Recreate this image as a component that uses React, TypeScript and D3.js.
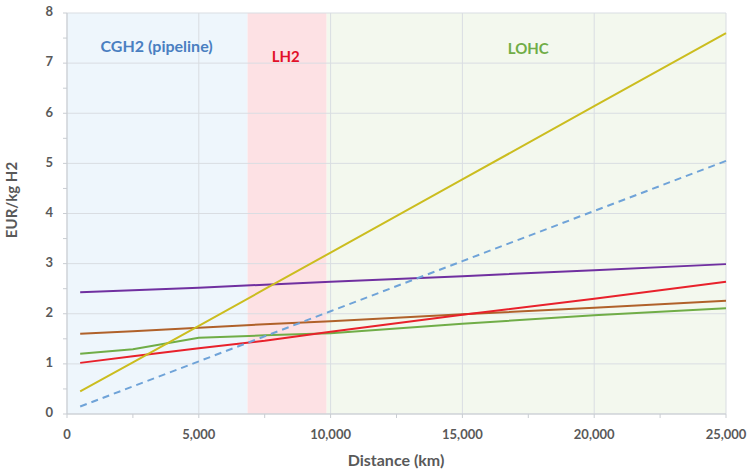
import React from "react";
import * as d3 from "d3";

const xTicks = [0, 5000, 10000, 15000, 20000, 25000];
const yTicks = [0, 1, 2, 3, 4, 5, 6, 7, 8];

const regions = [
  { name: "CGH2 (pipeline)", from: 0, to: 6850, fill: "#eef6fc", color: "#4a7fc1", labelX: 3400, labelY: 7.3, size: 16 },
  { name: "LH2", from: 6850, to: 9850, fill: "#fde1e4", color: "#e2102a", labelX: 8300, labelY: 7.1, size: 15 },
  { name: "LOHC", from: 9850, to: 25000, fill: "#f3f8ee", color: "#70ad47", labelX: 17500, labelY: 7.25, size: 15 },
];

const distances = [500, 2500, 5000, 7500, 10000, 15000, 20000, 25000];
const yellowSeries = [0.45, 1.03, 1.76, 2.49, 3.22, 4.68, 6.14, 7.6];
const dashedSeries = [0.15, 0.55, 1.05, 1.55, 2.05, 3.05, 4.05, 5.05];
const purpleSeries = [2.43, 2.47, 2.52, 2.58, 2.64, 2.75, 2.87, 2.99];
const brownSeries = [1.6, 1.65, 1.72, 1.79, 1.85, 1.99, 2.12, 2.26];
const redSeries = [1.02, 1.15, 1.31, 1.46, 1.64, 1.98, 2.3, 2.64];
const greenSeries = [1.2, 1.29, 1.52, 1.57, 1.61, 1.8, 1.97, 2.11];

const series = [
  { values: greenSeries, color: "#70ad47", dash: "" },
  { values: brownSeries, color: "#b0612a", dash: "" },
  { values: redSeries, color: "#e8212b", dash: "" },
  { values: purpleSeries, color: "#7030a0", dash: "" },
  { values: dashedSeries, color: "#6fa3d8", dash: "7,5" },
  { values: yellowSeries, color: "#cbbd1f", dash: "" },
];

const W = 751;
const H = 472;
const left = 67;
const right = 726;
const top = 13;
const bottom = 414;
const font = "Lato, 'Open Sans', sans-serif";

export default function App() {
  const x = d3.scaleLinear().domain([0, 25000]).range([left, right]);
  const y = d3.scaleLinear().domain([0, 8]).range([bottom, top]);
  const line = d3
    .line<number>()
    .x((_, i) => x(distances[i]))
    .y((v) => y(v));
  const fmt = d3.format(",");
  const minorX = d3.range(2500, 25001, 5000);
  const minorY = d3.range(0.5, 8, 1);

  return (
    <svg width={W} height={H} style={{ position: "absolute", left: 0, top: 0, background: "#fff" }}>
      {regions.map((r) => (
        <rect key={r.name} x={x(r.from)} y={y(8)} width={x(r.to) - x(r.from)} height={y(0) - y(8)} fill={r.fill} />
      ))}
      {yTicks.map((t) => (
        <line key={"gy" + t} x1={left} x2={right} y1={y(t)} y2={y(t)} stroke="#d9dde2" strokeWidth={1} />
      ))}
      {xTicks.map((t) => (
        <line key={"gx" + t} x1={x(t)} x2={x(t)} y1={top} y2={bottom} stroke="#d9dde2" strokeWidth={1} />
      ))}
      {regions.map((r) => (
        <text
          key={"l" + r.name}
          x={x(r.labelX)}
          y={y(r.labelY)}
          textAnchor="middle"
          dominantBaseline="middle"
          fill={r.color}
          fontFamily={font}
          fontWeight="bold"
          fontSize={r.size}
        >
          {r.name}
        </text>
      ))}
      {series.map((s, i) => (
        <path key={i} d={line(s.values) || ""} fill="none" stroke={s.color} strokeWidth={2} strokeDasharray={s.dash} />
      ))}
      <line x1={left} x2={left} y1={top} y2={bottom} stroke="#c9cdd2" />
      <line x1={left} x2={right} y1={bottom} y2={bottom} stroke="#c9cdd2" />
      {minorY.map((t) => (
        <line key={"my" + t} x1={left - 4} x2={left} y1={y(t)} y2={y(t)} stroke="#c9cdd2" />
      ))}
      {yTicks.map((t) => (
        <line key={"ty" + t} x1={left - 4} x2={left} y1={y(t)} y2={y(t)} stroke="#c9cdd2" />
      ))}
      {[...minorX, ...xTicks].map((t) => (
        <line key={"tx" + t} x1={x(t)} x2={x(t)} y1={bottom} y2={bottom + 4} stroke="#c9cdd2" />
      ))}
      {yTicks.map((t) => (
        <text
          key={"yl" + t}
          x={left - 14}
          y={y(t)}
          textAnchor="end"
          dominantBaseline="middle"
          fill="#595959"
          fontFamily={font}
          fontWeight="bold"
          fontSize={13}
        >
          {t}
        </text>
      ))}
      {xTicks.map((t) => (
        <text
          key={"xl" + t}
          x={x(t)}
          y={436}
          textAnchor="middle"
          dominantBaseline="middle"
          fill="#595959"
          fontFamily={font}
          fontWeight="bold"
          fontSize={13}
        >
          {fmt(t)}
        </text>
      ))}
      <text x={396} y={462} textAnchor="middle" dominantBaseline="middle" fill="#595959" fontFamily={font} fontWeight="bold" fontSize={16}>
        Distance (km)
      </text>
      <text
        transform={`translate(13,200) rotate(-90)`}
        textAnchor="middle"
        dominantBaseline="middle"
        fill="#595959"
        fontFamily={font}
        fontWeight="bold"
        fontSize={15}
      >
        EUR/kg H2
      </text>
    </svg>
  );
}
